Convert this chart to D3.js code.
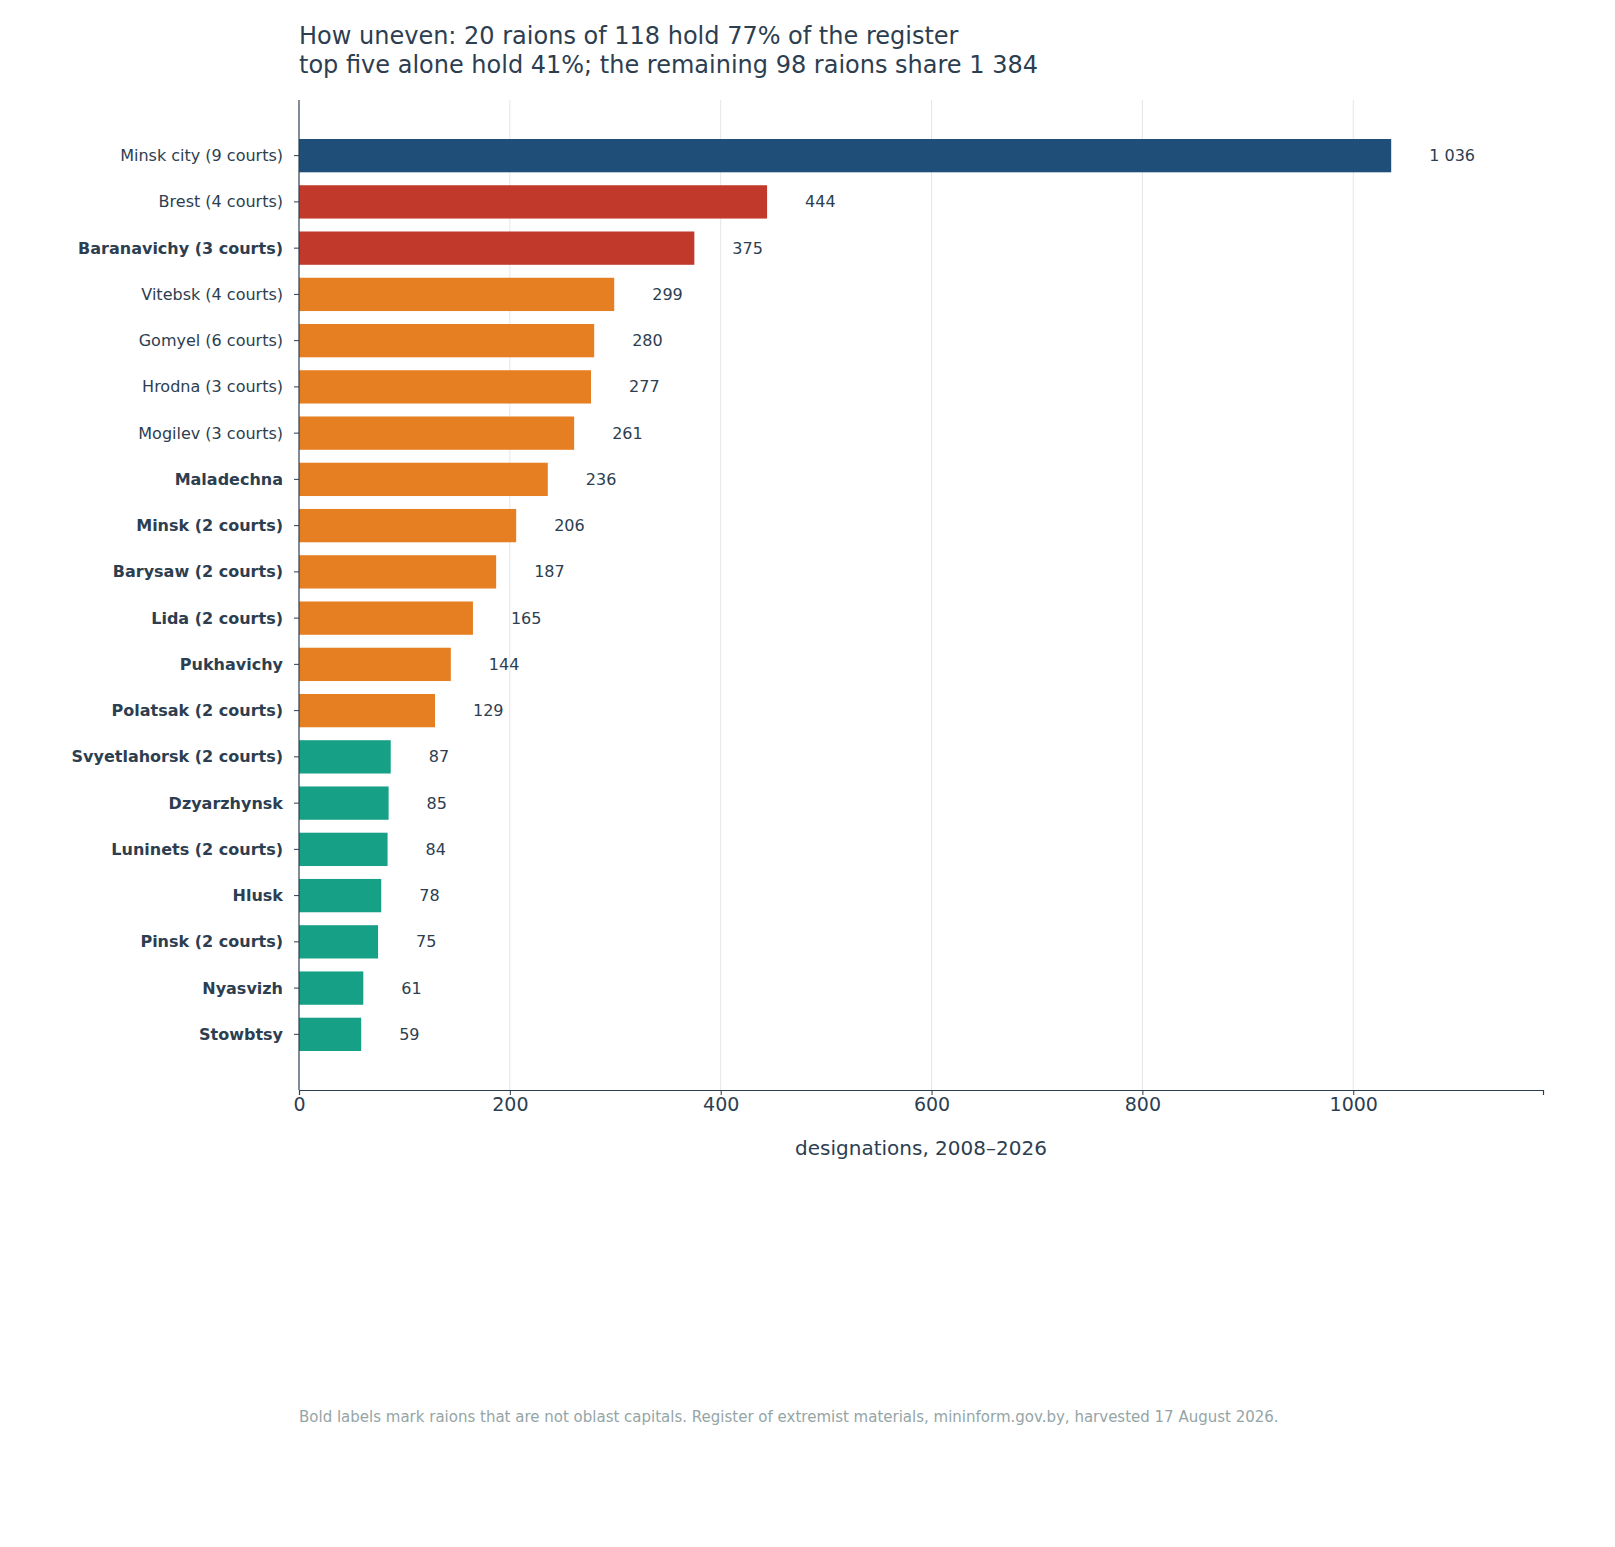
<!DOCTYPE html>
<html><head><meta charset="utf-8">
<script src="https://cdn.jsdelivr.net/npm/d3@7"></script>
<style>body{margin:0;background:#fff}svg{font-family:"DejaVu Sans",sans-serif}</style>
</head><body><svg id="c" width="1615" height="1547"></svg>
<script>
const categories=["Minsk city (9 courts)","Brest (4 courts)","Baranavichy (3 courts)","Vitebsk (4 courts)","Gomyel (6 courts)","Hrodna (3 courts)","Mogilev (3 courts)","Maladechna","Minsk (2 courts)","Barysaw (2 courts)","Lida (2 courts)","Pukhavichy","Polatsak (2 courts)","Svyetlahorsk (2 courts)","Dzyarzhynsk","Luninets (2 courts)","Hlusk","Pinsk (2 courts)","Nyasvizh","Stowbtsy"];
const values=[1036,444,375,299,280,277,261,236,206,187,165,144,129,87,85,84,78,75,61,59];
const bold=[false,false,true,false,false,false,false,true,true,true,true,true,true,true,true,true,true,true,true,true];
const groups=["capital","top","top","mid","mid","mid","mid","mid","mid","mid","mid","mid","mid","low","low","low","low","low","low","low"];
const ticks=[0,200,400,600,800,1000];
const colors={capital:"#1f4e79",top:"#c0392b",mid:"#e67e22",low:"#16a085"};
const ink="#2c3e50";
const svg=d3.select("#c");
const L=299,R=1543,T=100,B=1090;
const x=d3.scaleLinear().domain([0,1180]).range([L,R]);
const y=d3.scaleBand().domain(categories).range([139,1051]).paddingInner(0.28);
svg.append("g").selectAll("line").data(ticks.slice(1)).join("line")
 .attr("x1",d=>x(d)).attr("x2",d=>x(d)).attr("y1",T).attr("y2",B).attr("stroke","#e6e6e6");
svg.append("g").selectAll("rect").data(values).join("rect")
 .attr("x",x(0)).attr("y",(d,i)=>y(categories[i])).attr("height",y.bandwidth())
 .attr("width",d=>x(d)-x(0)).attr("fill",(d,i)=>colors[groups[i]]);
const fmt=v=>v>=1000?Math.floor(v/1000)+" "+String(v%1000).padStart(3,"0"):String(v);
svg.append("g").selectAll("text").data(values).join("text")
 .attr("x",d=>x(d)+38).attr("y",(d,i)=>y(categories[i])+y.bandwidth()/2).attr("dy","0.35em")
 .attr("font-size",16).attr("fill",ink).text(fmt);
svg.append("g").selectAll("text").data(categories).join("text")
 .attr("x",283).attr("y",d=>y(d)+y.bandwidth()/2).attr("dy","0.35em").attr("text-anchor","end")
 .attr("font-size",16).attr("font-weight",(d,i)=>bold[i]?"bold":"normal").attr("fill",ink).text(d=>d);
svg.append("g").selectAll("line").data(categories).join("line")
 .attr("x1",L-5).attr("x2",L).attr("y1",d=>y(d)+y.bandwidth()/2).attr("y2",d=>y(d)+y.bandwidth()/2).attr("stroke",ink);
svg.append("line").attr("x1",L).attr("x2",L).attr("y1",T).attr("y2",B).attr("stroke",ink).attr("stroke-width",1.2);
const ax=svg.append("g").attr("transform",`translate(0,${B})`).call(d3.axisBottom(x).tickValues(ticks).tickSize(5).tickFormat(d3.format("d")));
ax.select(".domain").attr("stroke",ink).attr("stroke-width",1.2);
ax.selectAll("line").attr("stroke",ink);
ax.selectAll("text").attr("font-size",19).attr("fill",ink).attr("font-family","DejaVu Sans");
svg.append("text").attr("x",(L+R)/2).attr("y",1155).attr("text-anchor","middle").attr("font-size",20).attr("fill",ink).text("designations, 2008–2026");
svg.append("text").attr("x",299).attr("y",44).attr("font-size",24).attr("fill",ink).text("How uneven: 20 raions of 118 hold 77% of the register");
svg.append("text").attr("x",299).attr("y",73).attr("font-size",24).attr("fill",ink).text("top five alone hold 41%; the remaining 98 raions share 1 384");
svg.append("text").attr("x",299).attr("y",1422).attr("font-size",15).attr("fill","#95a5a6").text("Bold labels mark raions that are not oblast capitals. Register of extremist materials, mininform.gov.by, harvested 17 August 2026.");
</script></body></html>
